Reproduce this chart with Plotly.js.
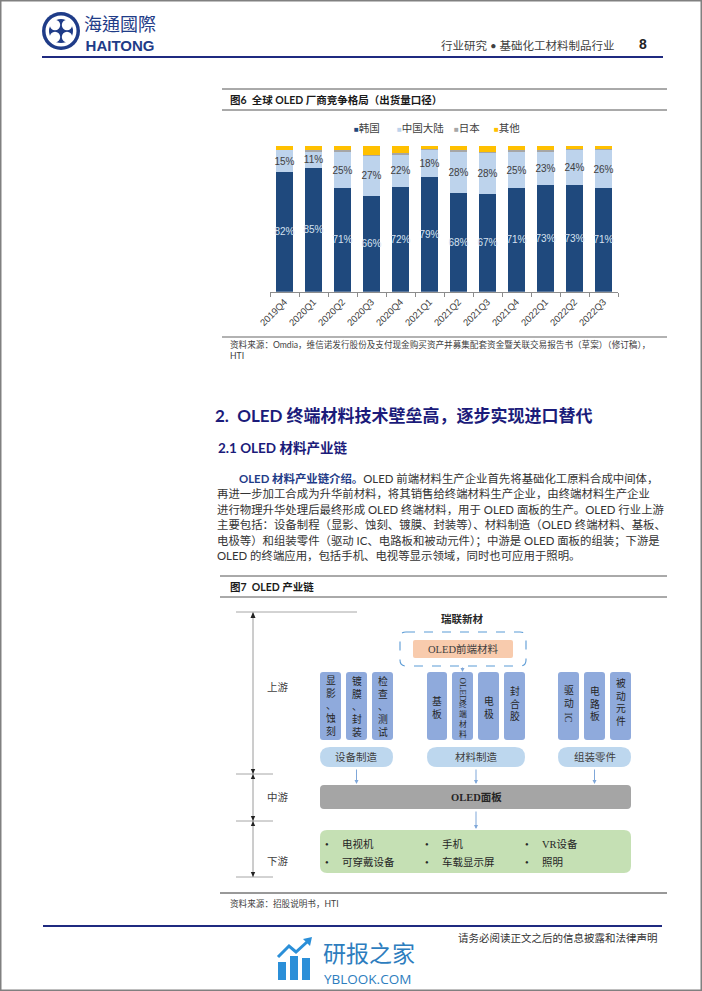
<!DOCTYPE html>
<html><head><meta charset="utf-8">
<script src="https://cdn.plot.ly/plotly-3.0.1.min.js"></script>
<style>html,body{margin:0;padding:0;background:#fff;}#chart{width:702px;height:991px;}</style>
</head><body><div id="chart"></div>
<script>
// ---------- chart data (图6 全球 OLED 厂商竞争格局，出货量口径, %) ----------
const quarters = ['2019Q4','2020Q1','2020Q2','2020Q3','2020Q4','2021Q1','2021Q2','2021Q3','2021Q4','2022Q1','2022Q2','2022Q3'];
const korea = [82,85,71,66,72,79,68,67,71,73,73,71];
const chinaMainland = [15,11,25,27,22,18,28,28,25,23,24,26];
const japan = [0,1,1,1,1,1,1,1,1,1,1,1];
const others = [3,3,3,6,5,2,3,4,3,3,2,2];
const seriesNames = ['韩国','中国大陆','日本','其他'];
const seriesColors = ['#1F497D','#BDD3EC','#A6A6A6','#FFC000'];

// ---------- page texts ----------
const paraLines = [
  '<b><span style="color:#1F3C88">OLED 材料产业链介绍。</span></b>OLED 前端材料生产企业首先将基础化工原料合成中间体，',
  '再进一步加工合成为升华前材料，将其销售给终端材料生产企业，由终端材料生产企业',
  '进行物理升华处理后最终形成 OLED 终端材料，用于 OLED 面板的生产。OLED 行业上游',
  '主要包括：设备制程（显影、蚀刻、镀膜、封装等）、材料制造（OLED 终端材料、基板、',
  '电极等）和组装零件（驱动 IC、电路板和被动元件）；中游是 OLED 面板的组装；下游是',
  'OLED 的终端应用，包括手机、电视等显示领域，同时也可应用于照明。'
];

const W = 702, H = 991;
const CJK = 'Lato, "Noto Sans CJK SC", sans-serif';
const SERIF = '"Liberation Serif", "Noto Sans CJK SC", serif';
const ARIAL = '"Liberation Sans", Arial, "Noto Sans CJK SC", sans-serif';

// ---------- helpers (page pixel coordinates on hidden full-page axes x2/y2) ----------
const shapes = [];
const ann = [];
function L(x0,y0,x1,y1,color,width,dash){shapes.push({type:'line',xref:'x2',yref:'y2',x0,y0,x1,y1,line:{color,width:width||1,dash:dash||'solid'}});}
function R(x0,y0,x1,y1,fill,lc,lw){shapes.push({type:'rect',xref:'x2',yref:'y2',x0,y0,x1,y1,fillcolor:fill||'rgba(0,0,0,0)',line:{color:lc||'rgba(0,0,0,0)',width:lw||0}});}
function RR(x0,y0,x1,y1,r,fill,lc,lw,dash){
  const p=`M ${x0+r},${y0} H ${x1-r} Q ${x1},${y0} ${x1},${y0+r} V ${y1-r} Q ${x1},${y1} ${x1-r},${y1} H ${x0+r} Q ${x0},${y1} ${x0},${y1-r} V ${y0+r} Q ${x0},${y0} ${x0+r},${y0} Z`;
  shapes.push({type:'path',xref:'x2',yref:'y2',path:p,fillcolor:fill||'rgba(0,0,0,0)',line:{color:lc||'rgba(0,0,0,0)',width:lw||0,dash:dash||'solid'}});
}
function P(path,fill,lc,lw){shapes.push({type:'path',xref:'x2',yref:'y2',path,fillcolor:fill||'rgba(0,0,0,0)',line:{color:lc||'rgba(0,0,0,0)',width:lw||0}});}
function C(cx,cy,r,fill){shapes.push({type:'circle',xref:'x2',yref:'y2',x0:cx-r,y0:cy-r,x1:cx+r,y1:cy+r,fillcolor:fill,line:{width:0}});}
function T(x,y,text,size,color,opt){
  opt=opt||{};
  ann.push(Object.assign({xref:'x2',yref:'y2',x,y,text,showarrow:false,xanchor:'left',yanchor:'middle',
    font:{family:opt.family||CJK,size,color:color||'#333'}},opt.extra||{}));
}
function A(x,y,ax,ay,color){
  ann.push({xref:'x2',yref:'y2',axref:'x2',ayref:'y2',x,y,ax,ay,text:'',showarrow:true,arrowhead:2,arrowsize:0.8,arrowwidth:1,arrowcolor:color||'#7FA7D9'});
}

// ---------- page frame ----------
R(0.75,0.75,W-0.75,H-0.75,null,'#808080',1.5);

// ---------- header ----------
C(61,31,19,'#1F3C88');
C(61,31,15.5,'#ffffff');
C(61,31,12,'#1F3C88');
C(55,25,5.2,'#ffffff'); C(67,25,5.2,'#ffffff'); C(55,37,5.2,'#ffffff'); C(67,37,5.2,'#ffffff');
C(61,31,2.6,'#1F3C88');
T(82,32,'<span style="font-family:Noto Sans CJK TC;font-size:18px">海通國際</span><br><b>HAITONG</b>',15,'#1F3C88',{family:ARIAL});
T(617,45,'行业研究 • 基础化工材料制品行业',11.5,'#404040',{family:CJK,extra:{xanchor:'right'}});
T(643,44,'<b>8</b>',14,'#222',{family:ARIAL,extra:{xanchor:'center'}});
L(42,57,663,57,'#1F2A80',2.2);

// ---------- figure 6 frame ----------
L(222,89,667,89,'#555',1);
T(228,100,'<b>图6  全球 OLED 厂商竞争格局（出货量口径）</b>',10.5,'#1a1a1a');
L(222,110,667,110,'#555',1);
// legend
const legendX = [352,395,452,492];
seriesNames.forEach((n,i)=>{
  T(legendX[i],128,`<span style="color:${seriesColors[i]};font-size:8px">■</span>${n}`,10.5,'#404040',{family:ARIAL});
});
L(222,337,667,337,'#999',1.5);
T(228,344,'资料来源：Omdia，维信诺发行股份及支付现金购买资产并募集配套资金暨关联交易报告书（草案）（修订稿），',8.6,'#404040');
T(228,356,'HTI',8.6,'#404040');

// ---------- section text ----------
T(213,415,'<b>2.  OLED 终端材料技术壁垒高，逐步实现进口替代</b>',17,'#1B1B7A');
T(216,448,'<b>2.1 OLED 材料产业链</b>',13.5,'#1B1B7A');
const paraY = [478,493.5,509,524.5,540,555.5];
paraLines.forEach((t,i)=>T(i===0?237:215,paraY[i],t,11.4,'#333'));
L(220,576,667,576,'#555',1);
T(228,587,'<b>图7  OLED 产业链</b>',10.5,'#1a1a1a');
L(220,597,667,597,'#555',1);

// ---------- figure 7 diagram ----------
// left scale
L(236,612,357,612,'#A6A6A6',1);
L(253,613,253,877,'#9A9A9A',1);
[774,821,877].forEach(y=>L(236,y,273,y,'#A6A6A6',1));
P('M 250.5,618 L 253,612 L 255.5,618 Z','#222');
[774,821].forEach(y=>{P(`M 250.8,${y-5} L 255.2,${y-5} L 253,${y} Z`,'#222');P(`M 250.8,${y+5} L 255.2,${y+5} L 253,${y} Z`,'#222');});
P('M 250.8,872 L 255.2,872 L 253,877 Z','#222');
T(278,687,'上游',10.5,'#404040',{family:SERIF,extra:{xanchor:'center'}});
T(278,797,'中游',10.5,'#404040',{family:SERIF,extra:{xanchor:'center'}});
T(278,861,'下游',10.5,'#404040',{family:SERIF,extra:{xanchor:'center'}});

T(462,619,'<b>瑞联新材</b>',10.5,'#262626',{family:SERIF,extra:{xanchor:'center'}});
RR(400,632,526,666,6,null,'#5B9BD5',1.1,'dash');
RR(413,640,513,658,2,'#F8CBAD');
T(463,649,'OLED前端材料',10.5,'#404040',{family:SERIF,extra:{xanchor:'center'}});
A(462.5,672,462.5,666);

// vertical boxes
const vb = [
  [320,341,'显<br>影<br>、<br>蚀<br>刻',706],
  [346,367,'镀<br>膜<br>、<br>封<br>装',706],
  [372,393,'检<br>查<br>、<br>测<br>试',706],
  [427,447,'基<br>板',707],
  [452,473,'',0],
  [478,499,'电<br>极',707],
  [504,525,'封<br>合<br>胶',703],
  [558,579,'驱<br>动',696.5],
  [584,605,'电<br>路<br>板',703],
  [610,631,'被<br>动<br>元<br>件',701.5]
];
vb.forEach(b=>{
  RR(b[0],672,b[1],740,3,'#8FAADC');
  if(b[2]) ann.push({xref:'x2',yref:'y2',x:(b[0]+b[1])/2,y:b[3],text:b[2],showarrow:false,xanchor:'center',yanchor:'middle',font:{family:SERIF,size:9.8,color:'#262626'}});
});
ann.push({xref:'x2',yref:'y2',x:462.5,y:689,text:'OLED',textangle:90,showarrow:false,xanchor:'center',yanchor:'middle',font:{family:SERIF,size:9,color:'#262626'}});
ann.push({xref:'x2',yref:'y2',x:462.5,y:719,text:'终<br>端<br>材<br>料',showarrow:false,xanchor:'center',yanchor:'middle',font:{family:SERIF,size:7.8,color:'#262626'}});
ann.push({xref:'x2',yref:'y2',x:568.5,y:717,text:'IC',textangle:90,showarrow:false,xanchor:'center',yanchor:'middle',font:{family:SERIF,size:9.8,color:'#262626'}});

// pills
[[320,393,'设备制造'],[427,525,'材料制造'],[558,631,'组装零件']].forEach(p=>{
  RR(p[0],747,p[1],767,10,'#BDD7EE');
  T((p[0]+p[1])/2,757,p[2],10.5,'#404040',{family:SERIF,extra:{xanchor:'center'}});
  A((p[0]+p[1])/2,784,(p[0]+p[1])/2,768);
});
RR(320,785,631,809,4,'#A5A5A5');
T(476,797,'<b>OLED面板</b>',10.5,'#262626',{family:SERIF,extra:{xanchor:'center'}});
A(476,829,476,810);
RR(320,830,631,873,7,'#C5E0B4');
const items = [[327,844,'电视机'],[427,844,'手机'],[527,844,'VR设备'],[327,862,'可穿戴设备'],[427,862,'车载显示屏'],[527,862,'照明']];
items.forEach(it=>{
  T(it[0],it[1],'•',10.5,'#262626',{family:SERIF,extra:{xanchor:'center'}});
  T(it[0]+12.5,it[1],it[2],10.5,'#262626',{family:SERIF});
});

L(220,893,667,893,'#333',1);
T(228,903,'资料来源：招股说明书，HTI',8.6,'#404040');

// ---------- footer ----------
L(43,926,662,926,'#1F2A80',2.2);
T(660,938,'请务必阅读正文之后的信息披露和法律声明',10.5,'#333',{family:SERIF,extra:{xanchor:'right'}});

// watermark
const wm = '#2B8FD8';
R(278,962,286,980,wm); R(290,956,298,980,wm); R(302,958,310,980,wm);
P('M 278,957 L 289,946 L 296,952 L 307,942','rgba(0,0,0,0)',wm,3);
P('M 303,939 L 312,937 L 310,946 Z',wm);
T(321,952,'研报之家',23,'#2D7DBE',{family:'"Noto Sans CJK SC", sans-serif'});
T(322,979,'YBLOOK.COM',13.5,'#2D7DBE',{family:'"Open Sans", sans-serif'});

// ---------- traces ----------
const barBase = {type:'bar',x:quarters,xaxis:'x',yaxis:'y',hoverinfo:'skip',showlegend:false,constraintext:'none',textangle:0,insidetextanchor:'middle',cliponaxis:false};
const traces = [
  Object.assign({},barBase,{name:seriesNames[0],y:korea,marker:{color:seriesColors[0]},text:korea.map(v=>v+'%'),textposition:'inside',textfont:{family:ARIAL,size:10,color:'#D6E2F0'}}),
  Object.assign({},barBase,{name:seriesNames[1],y:chinaMainland,marker:{color:seriesColors[1]},text:chinaMainland.map(v=>v+'%'),textposition:'inside',textfont:{family:ARIAL,size:10,color:'#404040'}}),
  Object.assign({},barBase,{name:seriesNames[2],y:japan,marker:{color:seriesColors[2]},textposition:'none'}),
  Object.assign({},barBase,{name:seriesNames[3],y:others,marker:{color:seriesColors[3]},textposition:'none'}),
  {type:'scatter',x:[],y:[],xaxis:'x2',yaxis:'y2',showlegend:false,hoverinfo:'skip'}
];

const layout = {
  width:W,height:H,margin:{l:0,r:0,t:0,b:0},
  paper_bgcolor:'#ffffff',plot_bgcolor:'rgba(0,0,0,0)',
  barmode:'stack',bargap:0.41,showlegend:false,
  xaxis:{domain:[270/W,618/W],anchor:'y',type:'category',tickangle:-45,
    tickfont:{family:ARIAL,size:9.5,color:'#404040'},showline:true,linecolor:'#8C8C8C',linewidth:1,
    ticks:'outside',ticklen:4,tickcolor:'#8C8C8C',tickson:'boundaries',showgrid:false,zeroline:false,fixedrange:true},
  yaxis:{domain:[1-291.7/H,1-146/H],anchor:'x',range:[0,100],visible:false,fixedrange:true},
  xaxis2:{domain:[0,1],anchor:'y2',range:[0,W],visible:false,fixedrange:true},
  yaxis2:{domain:[0,1],anchor:'x2',range:[H,0],visible:false,fixedrange:true},
  shapes:shapes,annotations:ann
};
Plotly.newPlot('chart',traces,layout,{staticPlot:true,displayModeBar:false});
</script></body></html>
